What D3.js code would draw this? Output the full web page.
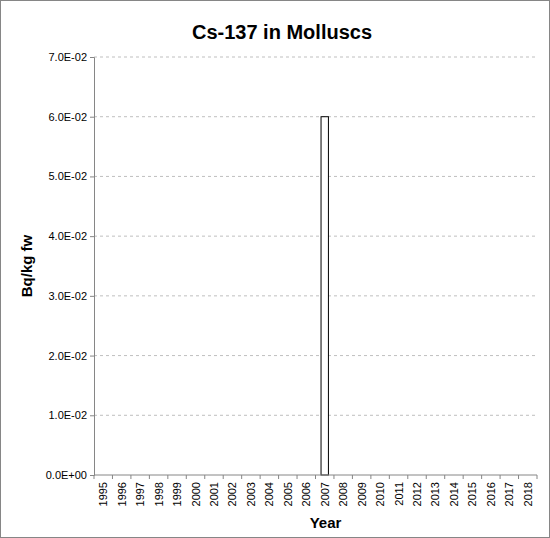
<!DOCTYPE html>
<html><head><meta charset="utf-8">
<script src="https://cdn.jsdelivr.net/npm/d3@7"></script>
<style>body{margin:0;background:#fff}text{font-family:"Liberation Sans",Arial,sans-serif}</style>
</head><body><div id="chart"></div>
<script>
const years = d3.range(1995, 2019).map(String);
const values = years.map(y => y === "2007" ? 0.06 : 0);
const yTicks = [0, 0.01, 0.02, 0.03, 0.04, 0.05, 0.06, 0.07];

const width = 550, height = 538;
const mLeft = 94, mRight = 537, mTop = 57, mBottom = 475;

const svg = d3.select("#chart").append("svg").attr("width", width).attr("height", height);
svg.append("rect").attr("x", 0.5).attr("y", 0.5).attr("width", width - 1).attr("height", height - 1)
	.attr("fill", "#fff").attr("stroke", "#868686");

const x = d3.scaleBand(years, [mLeft, mRight]).paddingInner(0.6).paddingOuter(0.3);
const y = d3.scaleLinear([0, 0.07], [mBottom, mTop]);

// gridlines
svg.append("g").selectAll("line").data(yTicks.slice(1)).join("line")
	.attr("x1", mLeft).attr("x2", mRight).attr("y1", d => y(d)).attr("y2", d => y(d))
	.attr("stroke", "#bfbfbf").attr("stroke-dasharray", "3,3");

// bars
svg.append("g").selectAll("rect").data(years.map((k, i) => [k, values[i]]).filter(d => d[1] > 0)).join("rect")
	.attr("x", d => x(d[0])).attr("width", x.bandwidth())
	.attr("y", d => y(d[1])).attr("height", d => y(0) - y(d[1]))
	.attr("fill", "#fff").attr("stroke", "#000").attr("stroke-width", 1);

// y axis
const ay = svg.append("g").attr("transform", `translate(${mLeft},0)`)
	.call(d3.axisLeft(y).tickValues(yTicks).tickSize(4).tickFormat(d => d.toExponential(1).replace("e-", "E-0").replace("e+0", "E+00")));
ay.select(".domain").attr("stroke", "#868686");
ay.selectAll(".tick line").attr("stroke", "#868686");
ay.selectAll("text").attr("font-size", 11).attr("fill", "#000").attr("font-family", "Liberation Sans, Arial, sans-serif");

// x axis
const ax = svg.append("g").attr("transform", `translate(0,${mBottom})`);
ax.append("line").attr("x1", mLeft).attr("x2", mRight).attr("stroke", "#868686");
ax.selectAll("line.t").data(d3.range(years.length + 1)).join("line").attr("class", "t")
	.attr("x1", i => mLeft + i * (mRight - mLeft) / years.length).attr("x2", i => mLeft + i * (mRight - mLeft) / years.length)
	.attr("y1", 0).attr("y2", 4).attr("stroke", "#868686");
ax.selectAll("text").data(years).join("text")
	.attr("transform", d => `translate(${x(d) + x.bandwidth() / 2 + 4},7) rotate(-90)`)
	.attr("text-anchor", "end").attr("font-size", 11).text(d => d);

svg.append("text").attr("x", (mLeft + mRight) / 2 + 10).attr("y", 528).attr("text-anchor", "middle")
	.attr("font-size", 15).attr("font-weight", "bold").text("Year");
svg.append("text").attr("transform", `translate(32,${(mTop + mBottom) / 2}) rotate(-90)`).attr("text-anchor", "middle")
	.attr("font-size", 15).attr("font-weight", "bold").text("Bq/kg fw");
svg.append("text").attr("x", 282).attr("y", 39).attr("text-anchor", "middle")
	.attr("font-size", 20).attr("font-weight", "bold").text("Cs-137 in Molluscs");
</script></body></html>
